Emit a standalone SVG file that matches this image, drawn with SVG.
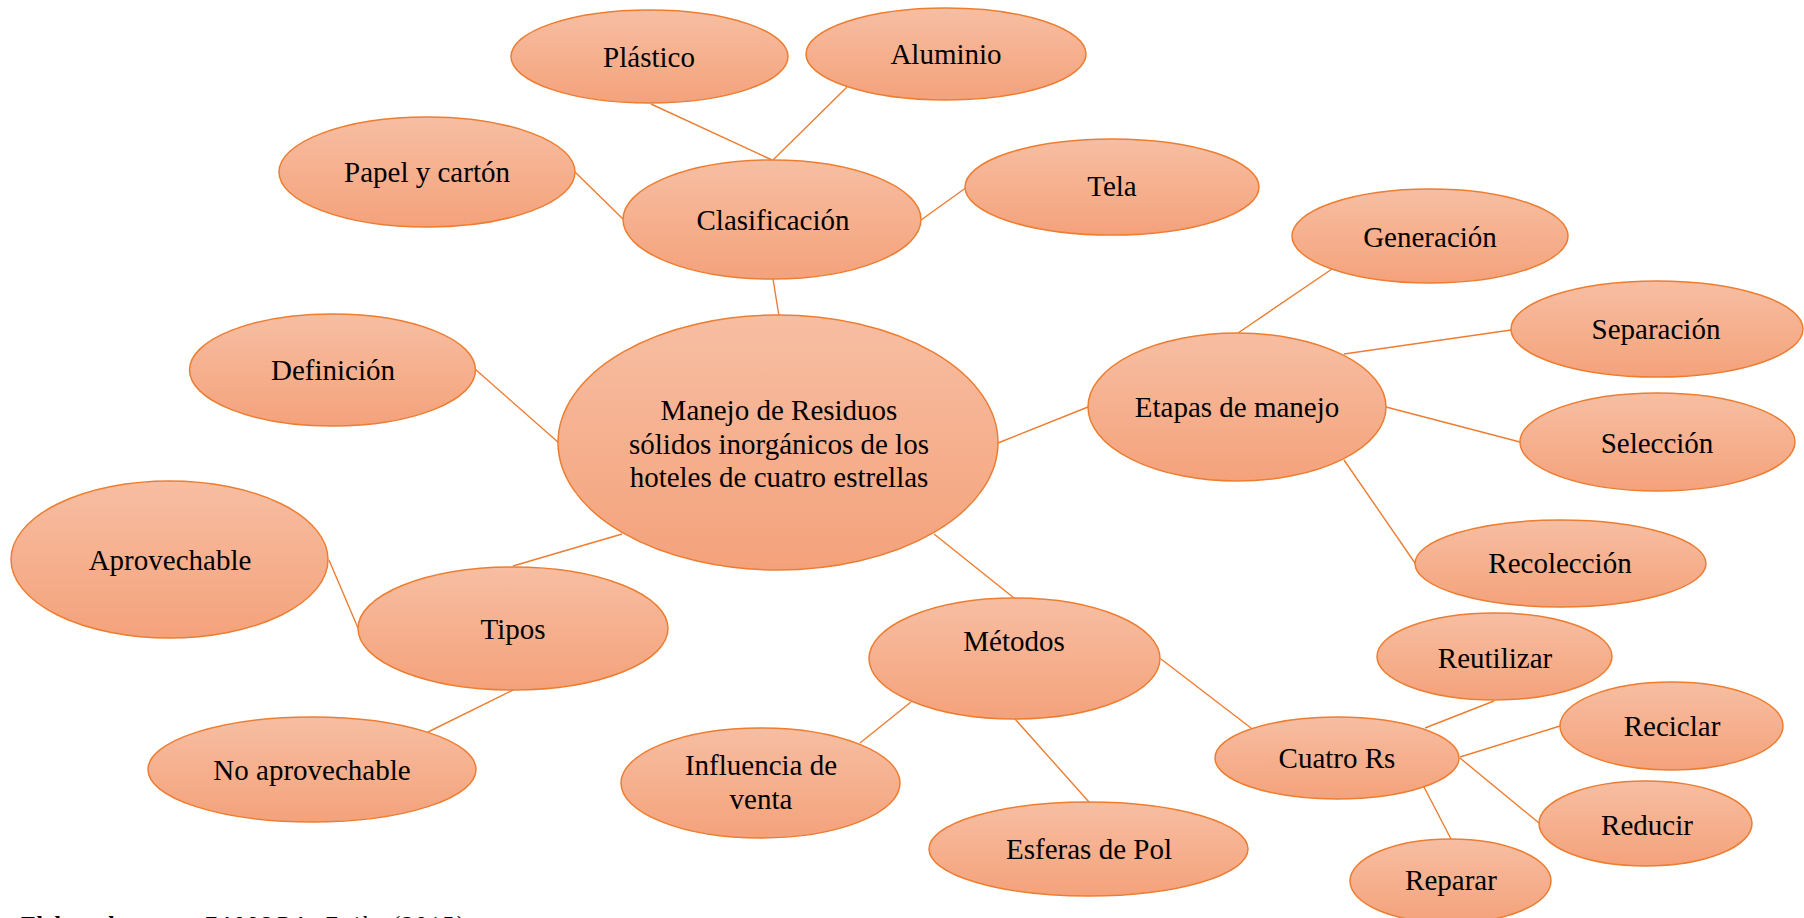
<svg xmlns="http://www.w3.org/2000/svg" width="1804" height="918" viewBox="0 0 1804 918">
<defs>
<linearGradient id="g" x1="0" y1="0" x2="0" y2="1">
<stop offset="0" stop-color="#F7BEA2"/>
<stop offset="1" stop-color="#F4A27B"/>
</linearGradient>
<style>
.n ellipse{fill:url(#g);stroke:#ED7D31;stroke-width:1.5}
.n text{font-family:"Liberation Serif","Times New Roman",serif;font-size:29px;fill:#000;text-anchor:middle}
#connectors line{stroke:#ED7D31;stroke-width:1.4}
.foot{font-family:"Liberation Serif","Times New Roman",serif;font-size:24px;fill:#000}
</style>
</defs>
<rect width="1804" height="918" fill="#fff"/>
<g id="connectors">
<line x1="779" y1="316" x2="773" y2="279"/>
<line x1="772" y1="160" x2="651" y2="104"/>
<line x1="773" y1="160" x2="847" y2="87"/>
<line x1="624" y1="220" x2="575" y2="172"/>
<line x1="921" y1="220" x2="967" y2="187"/>
<line x1="559" y1="443" x2="475" y2="369"/>
<line x1="998" y1="443" x2="1088" y2="407"/>
<line x1="1238" y1="333" x2="1332" y2="269"/>
<line x1="1344" y1="354" x2="1511" y2="330"/>
<line x1="1386" y1="407" x2="1520" y2="442"/>
<line x1="1344" y1="460" x2="1415" y2="563"/>
<line x1="622" y1="534" x2="513" y2="566"/>
<line x1="358" y1="628" x2="329" y2="560"/>
<line x1="513" y1="690" x2="428" y2="732"/>
<line x1="934" y1="534" x2="1014" y2="598"/>
<line x1="911" y1="702" x2="860" y2="743"/>
<line x1="1015" y1="719" x2="1089" y2="802"/>
<line x1="1161" y1="659" x2="1251" y2="728"/>
<line x1="1425" y1="728" x2="1494" y2="701"/>
<line x1="1460" y1="757" x2="1560" y2="726"/>
<line x1="1460" y1="758" x2="1539" y2="823"/>
<line x1="1424" y1="787" x2="1451" y2="839"/>
</g>
<g id="n-plastico" class="n"><ellipse cx="649.5" cy="56.5" rx="138.5" ry="46.5"/><text x="649" y="67">Plástico</text></g>
<g id="n-aluminio" class="n"><ellipse cx="946" cy="54" rx="140" ry="46"/><text x="946" y="63.5">Aluminio</text></g>
<g id="n-papel" class="n"><ellipse cx="427" cy="172" rx="148" ry="55"/><text x="427" y="182">Papel y cartón</text></g>
<g id="n-clasificacion" class="n"><ellipse cx="772" cy="219.5" rx="149" ry="59.5"/><text x="773" y="230">Clasificación</text></g>
<g id="n-tela" class="n"><ellipse cx="1112" cy="187" rx="147" ry="48"/><text x="1112" y="196">Tela</text></g>
<g id="n-generacion" class="n"><ellipse cx="1430" cy="236" rx="138" ry="47"/><text x="1430" y="246.5">Generación</text></g>
<g id="n-separacion" class="n"><ellipse cx="1657" cy="329" rx="146" ry="48"/><text x="1656" y="339">Separación</text></g>
<g id="n-definicion" class="n"><ellipse cx="332.5" cy="370" rx="143" ry="56"/><text x="333" y="380">Definición</text></g>
<g id="n-central" class="n"><ellipse cx="778" cy="442.5" rx="220" ry="127.5"/><text x="779" y="419.5">Manejo de Residuos</text><text x="779" y="453.5">sólidos inorgánicos de los</text><text x="779" y="487">hoteles de cuatro estrellas</text></g>
<g id="n-etapas" class="n"><ellipse cx="1237" cy="407" rx="149" ry="74"/><text x="1237" y="417">Etapas de manejo</text></g>
<g id="n-seleccion" class="n"><ellipse cx="1657.5" cy="442" rx="137.5" ry="49"/><text x="1657" y="452.5">Selección</text></g>
<g id="n-aprovechable" class="n"><ellipse cx="169.5" cy="559.5" rx="158.5" ry="78.5"/><text x="170" y="570">Aprovechable</text></g>
<g id="n-recoleccion" class="n"><ellipse cx="1560.5" cy="563.5" rx="145.5" ry="43.5"/><text x="1560" y="572.5">Recolección</text></g>
<g id="n-tipos" class="n"><ellipse cx="513" cy="628.5" rx="155" ry="61.5"/><text x="513" y="639">Tipos</text></g>
<g id="n-metodos" class="n"><ellipse cx="1014.5" cy="658.5" rx="145.5" ry="60.5"/><text x="1014" y="650.5">Métodos</text></g>
<g id="n-reutilizar" class="n"><ellipse cx="1494.5" cy="656.5" rx="117.5" ry="43.5"/><text x="1495" y="668">Reutilizar</text></g>
<g id="n-reciclar" class="n"><ellipse cx="1671.5" cy="726" rx="111.5" ry="44"/><text x="1672" y="736">Reciclar</text></g>
<g id="n-cuatro" class="n"><ellipse cx="1337" cy="758" rx="122" ry="41"/><text x="1337" y="768">Cuatro Rs</text></g>
<g id="n-noaprov" class="n"><ellipse cx="312" cy="769.5" rx="164" ry="52.5"/><text x="312" y="780">No aprovechable</text></g>
<g id="n-influencia" class="n"><ellipse cx="760.5" cy="783" rx="139.5" ry="55"/><text x="761" y="775">Influencia de</text><text x="761" y="809">venta</text></g>
<g id="n-reducir" class="n"><ellipse cx="1645.5" cy="823.5" rx="106.5" ry="42.5"/><text x="1647" y="835">Reducir</text></g>
<g id="n-esferas" class="n"><ellipse cx="1088.5" cy="849" rx="159.5" ry="47"/><text x="1089" y="859">Esferas de Pol</text></g>
<g id="n-reparar" class="n"><ellipse cx="1450.5" cy="881" rx="100.5" ry="42"/><text x="1451" y="890">Reparar</text></g>
<text class="foot" x="21" y="932" font-weight="bold" textLength="154" lengthAdjust="spacingAndGlyphs">Elaborado por:</text>
<text class="foot" x="203" y="932" font-style="italic" textLength="260" lengthAdjust="spacing">ZAMORA, Zaila (2015)</text>
</svg>
